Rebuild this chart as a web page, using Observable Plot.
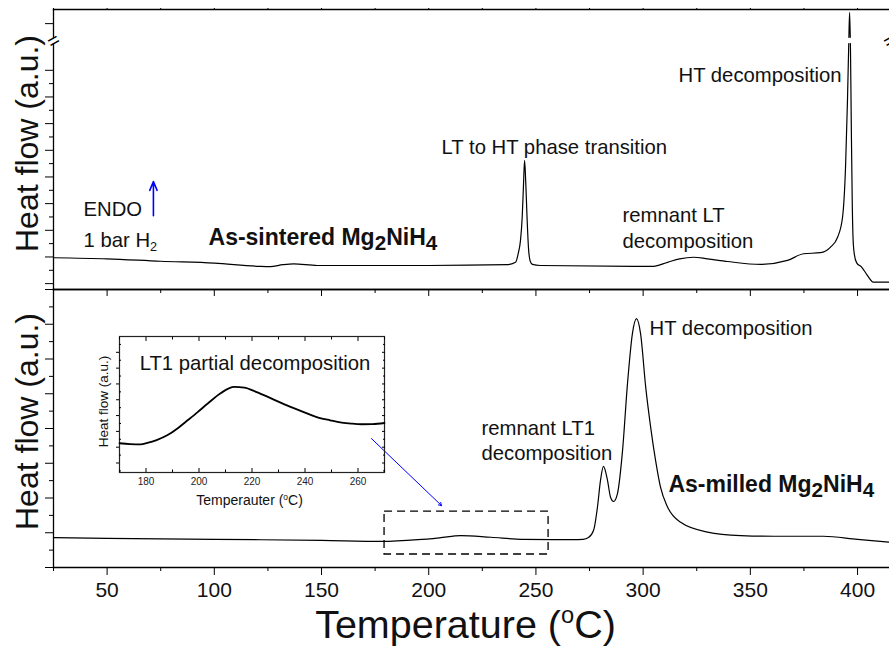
<!DOCTYPE html>
<html><head><meta charset="utf-8">
<script src="https://cdn.jsdelivr.net/npm/d3@7"></script>
<script src="https://cdn.jsdelivr.net/npm/@observablehq/plot@0.6"></script>
<style>
body{margin:0;background:#fff;}
#chart{position:relative;width:889px;height:648px;overflow:hidden;background:#fff;font-family:"Liberation Sans",Arial,sans-serif;}
#chart svg{position:absolute;}
</style></head><body><div id="chart"></div>
<script>
// ---------- shared x ----------
const xDomain = [25, 414.9];
const xMajor = [50, 100, 150, 200, 250, 300, 350, 400];
const xMinor = [25, 75, 125, 175, 225, 275, 325, 375];

// ---------- top panel: As-sintered ----------
const topYDomain = [-0.22, 10.28];
const topYMajor = [0, 1, 2, 3, 4, 5, 6, 7, 8, 9.75];
const topYMinor = [0.5, 1.5, 2.5, 3.5, 4.5, 5.5, 6.5, 7.5];
const topT = [25, 50, 75, 100, 121, 126, 132, 137, 148, 200, 236.7, 240.5, 241.8, 242.8, 243.6, 244.2, 244.7, 245.2, 245.8, 246.5, 247.3, 248.4, 252, 304.8, 311.4, 317, 323.5, 330, 339.4, 354.8, 367.3, 374.8, 382.7, 387.4, 390.7, 393, 394.4, 395.3, 395.9, 396.3, 396.7, 397.1, 397.5, 397.9, 398.5, 399.6, 401.9, 404.5, 407.3, 414.9];
const topV = [0.97, 0.93, 0.84, 0.77, 0.65, 0.64, 0.71, 0.74, 0.68, 0.68, 0.71, 0.80, 1.15, 1.62, 2.5, 3.7, 4.62, 3.9, 2.6, 1.37, 0.85, 0.72, 0.68, 0.65, 0.80, 0.93, 0.99, 0.93, 0.83, 0.72, 0.87, 1.12, 1.16, 1.37, 1.74, 2.49, 4.37, 6.87, 9.0, 10.17, 8.8, 5.8, 3.2, 1.7, 1.1, 0.78, 0.62, 0.32, 0.06, 0.06];
const topBreak = [9.0, 9.2];
const topNotes = [
  {text: "ENDO", x: 39, y: 2.85},
  {text: "1 bar H_2", x: 39, y: 1.69},
  {text: "LT to HT phase transition", x: 206, y: 5.18},
  {text: "remnant LT\ndecomposition", x: 290.4, y: 2.14},
  {text: "HT decomposition", x: 316.5, y: 7.88}
];
const topTitle = [{text: "As-sintered Mg_2NiH_4", x: 97.3, y: 1.73}];
const endoArrow = [{x: 71.6, y1: 2.55, y2: 3.83}];

// ---------- bottom panel: As-milled ----------
const botYDomain = [0, 8];
const botYMajor = [0, 1, 2, 3, 4, 5, 6, 7, 8];
const botYMinor = [0.5, 1.5, 2.5, 3.5, 4.5, 5.5, 6.5, 7.5];
const botT = [25, 50, 100, 150, 178, 195, 205, 215, 229, 244, 267, 272, 274.5, 276.9, 278.7, 280.1, 281.5, 283.4, 284.8, 286.2, 288, 290.4, 292.7, 295, 296.9, 298.8, 301.2, 303.5, 305.8, 308.1, 311.4, 317.5, 330, 345.5, 361, 384, 400, 414.9];
const botV = [0.86, 0.84, 0.81, 0.78, 0.75, 0.80, 0.855, 0.92, 0.87, 0.81, 0.80, 0.81, 0.86, 1.07, 1.74, 2.50, 2.91, 2.50, 2.02, 1.90, 2.12, 3.37, 5.29, 6.73, 7.16, 6.73, 5.19, 4.04, 3.08, 2.31, 1.74, 1.30, 1.02, 0.92, 0.90, 0.90, 0.81, 0.73];
const botNotes = [
  {text: "HT decomposition", x: 303, y: 6.94},
  {text: "remnant LT1\ndecomposition", x: 224.6, y: 3.69}
];
const botTitle = [{text: "As-milled Mg_2NiH_4", x: 311.8, y: 2.39}];
const zoomBox = [{x1: 179.4, x2: 255.9, y1: 0.374, y2: 1.61}];
const zoomArrow = [{x1: 173.3, y1: 3.71, x2: 206.0, y2: 1.78}];

// ---------- inset ----------
const insetXDomain = [170, 270];
const insetYDomain = [-0.6, 8.0];
const insetXMajor = [180, 200, 220, 240, 260];
const insetXMinor = [170, 190, 210, 230, 250, 270];
const insetYTicks = [0, 1, 2, 3, 4, 5, 6, 7];
const insetYMinor = [-0.5, 0.5, 1.5, 2.5, 3.5, 4.5, 5.5, 6.5, 7.5];
const insetT = [170, 174, 178, 180.5, 184, 188, 192, 195.7, 199.5, 203.3, 208.3, 213.3, 217.1, 221.5, 226, 231, 236, 240.5, 245, 249.5, 253.8, 257.5, 261.4, 265.5, 270];
const insetV = [1.25, 1.20, 1.18, 1.27, 1.45, 1.75, 2.20, 2.70, 3.22, 3.76, 4.43, 4.81, 4.77, 4.50, 4.18, 3.80, 3.45, 3.15, 2.87, 2.70, 2.56, 2.49, 2.45, 2.46, 2.53];
const insetNote = [{text: "LT1 partial decomposition", x: 177.6, y: 6.31}];

const FONT = '"Liberation Sans", Arial, sans-serif';
const chart = document.getElementById("chart");
const NOLAB = () => "";

function place(svg, left, top) {
  svg.style.left = left + "px";
  svg.style.top = top + "px";
  chart.appendChild(svg);
}
// tick-only axes (no tick labels, no axis label)
const tx = (o) => Plot.axisX({tickFormat: NOLAB, label: null, ...o});
const ty = (o) => Plot.axisY({tickFormat: NOLAB, label: null, ...o});

// ---------- top plot ----------
const topPlot = Plot.plot({
  width: 889, height: 300, marginTop: 9, marginBottom: 11, marginLeft: 53, marginRight: 0,
  style: {background: "transparent", fontFamily: FONT, overflow: "visible"},
  x: {domain: xDomain},
  y: {domain: topYDomain},
  marks: [
    ty({ticks: topYMajor, tickSize: 8}),
    ty({ticks: topYMinor, tickSize: 4}),
    tx({ticks: xMajor, tickSize: 7}),
    tx({ticks: xMinor, tickSize: 4}),
    tx({anchor: "top", ticks: [...xMajor, ...xMinor], tickSize: 2}),
    Plot.line(topT, {x: topT, y: topV, curve: "monotone-x", stroke: "black", strokeWidth: 1.2, clip: true}),
    Plot.frame({anchor: "top", strokeWidth: 1.3}),
    Plot.frame({anchor: "bottom", strokeWidth: 1.3}),
    Plot.frame({anchor: "left", strokeWidth: 1.3}),
    Plot.rect([topBreak], {x1: xDomain[0] - 1, x2: xDomain[1] + 1, y1: d => d[0], y2: d => d[1], fill: "white"}),
    Plot.text([xDomain[0], xDomain[1]], {x: d => d, y: (topBreak[0] + topBreak[1]) / 2, text: () => "=", rotate: -30, fontSize: 20}),
    Plot.arrow(endoArrow, {x: "x", y1: "y1", y2: "y2", stroke: "#0000ff", strokeWidth: 1.6, headLength: 9, headAngle: 45}),
    Plot.text(topNotes, {x: "x", y: "y", text: "text", textAnchor: "start", fontSize: 20.3, lineHeight: 1.28, fill: "#111"}),
    Plot.text(topTitle, {x: "x", y: "y", text: "text", textAnchor: "start", fontSize: 23, fontWeight: "bold", fill: "#111"}),
    Plot.text(["Heat flow (a.u.)"], {frameAnchor: "left", textAnchor: "middle", lineAnchor: "middle", rotate: -90, dx: -26, dy: -6, fontSize: 32, fill: "#111"})
  ]
});
place(topPlot, 0, 0);

// ---------- bottom plot ----------
const botPlot = Plot.plot({
  width: 889, height: 364, marginTop: 5, marginBottom: 81, marginLeft: 53, marginRight: 0,
  style: {background: "transparent", fontFamily: FONT, overflow: "visible"},
  x: {domain: xDomain},
  y: {domain: botYDomain},
  marks: [
    ty({ticks: botYMajor, tickSize: 8}),
    ty({ticks: botYMinor, tickSize: 4}),
    tx({ticks: xMajor, tickSize: 8}),
    tx({ticks: xMinor, tickSize: 4}),
    Plot.axisX({ticks: xMajor, tickSize: 0, tickPadding: 15, fontSize: 21, fill: "#111", label: null}),
    Plot.line(botT, {x: botT, y: botV, curve: "monotone-x", stroke: "black", strokeWidth: 1.2, clip: true}),
    Plot.frame({anchor: "top", strokeWidth: 1.3}),
    Plot.frame({anchor: "bottom", strokeWidth: 1.3}),
    Plot.frame({anchor: "left", strokeWidth: 1.3}),
    Plot.rect(zoomBox, {x1: "x1", x2: "x2", y1: "y1", y2: "y2", fill: "none", stroke: "black", strokeWidth: 1.3, strokeDasharray: "8,5"}),
    Plot.arrow(zoomArrow, {x1: "x1", y1: "y1", x2: "x2", y2: "y2", stroke: "#0000ff", strokeWidth: 1, headLength: 5}),
    Plot.text(botNotes, {x: "x", y: "y", text: "text", textAnchor: "start", fontSize: 20.3, lineHeight: 1.27, fill: "#111"}),
    Plot.text(botTitle, {x: "x", y: "y", text: "text", textAnchor: "start", fontSize: 23, fontWeight: "bold", fill: "#111"}),
    Plot.text(["Heat flow (a.u.)"], {frameAnchor: "left", textAnchor: "middle", lineAnchor: "middle", rotate: -90, dx: -26, dy: -7, fontSize: 32, fill: "#111"}),
    Plot.text(["Temperature (^oC)"], {frameAnchor: "bottom", textAnchor: "middle", lineAnchor: "middle", dx: -6, dy: 58, fontSize: 39.5, fill: "#111"})
  ]
});
place(botPlot, 0, 284);

// ---------- inset plot ----------
const insetPlot = Plot.plot({
  width: 320, height: 194, marginTop: 10, marginBottom: 48, marginLeft: 49, marginRight: 6,
  style: {background: "transparent", fontFamily: FONT, overflow: "visible"},
  x: {domain: insetXDomain},
  y: {domain: insetYDomain},
  marks: [
    Plot.frame({stroke: "#222", strokeWidth: 1.2}),
    tx({ticks: insetXMajor, tickSize: -4}),
    tx({ticks: insetXMinor, tickSize: -2.5}),
    tx({anchor: "top", ticks: insetXMajor, tickSize: -4}),
    tx({anchor: "top", ticks: insetXMinor, tickSize: -2.5}),
    Plot.axisX({ticks: insetXMajor, tickSize: 0, tickPadding: 5, fontSize: 10, fill: "#222", label: null}),
    ty({ticks: insetYTicks, tickSize: 3}),
    ty({ticks: insetYMinor, tickSize: -2}),
    ty({anchor: "right", ticks: insetYTicks, tickSize: -3}),
    ty({anchor: "right", ticks: insetYMinor, tickSize: -2}),
    Plot.line(insetT, {x: insetT, y: insetV, curve: "monotone-x", stroke: "black", strokeWidth: 1.8}),
    Plot.text(insetNote, {x: "x", y: "y", text: "text", textAnchor: "start", fontSize: 20.3, fill: "#111"}),
    Plot.text(["Heat flow (a.u.)"], {frameAnchor: "left", textAnchor: "middle", lineAnchor: "middle", rotate: -90, dx: -16, dy: -3, fontSize: 13.5, fill: "#111"}),
    Plot.text(["Temperauter (^oC)"], {frameAnchor: "bottom", textAnchor: "middle", lineAnchor: "middle", dx: -2.5, dy: 28, fontSize: 14, fill: "#111"})
  ]
});
place(insetPlot, 70, 326);

// ---------- sub/superscripts as tspans ----------
const NS = "http://www.w3.org/2000/svg";
chart.querySelectorAll("text, tspan").forEach(el => {
  if (el.children.length) return;
  const s = el.textContent;
  if (!/[_^]/.test(s)) return;
  const fs = parseFloat(getComputedStyle(el).fontSize) || 16;
  const bold = !!el.closest('[font-weight="bold"]');
  el.textContent = "";
  let buf = "";
  for (let i = 0; i < s.length; i++) {
    const c = s[i];
    if ((c === "_" || c === "^") && i + 1 < s.length) {
      if (buf) { el.appendChild(document.createTextNode(buf)); buf = ""; }
      const t = document.createElementNS(NS, "tspan");
      if (c === "_") {
        t.setAttribute("font-size", (bold ? 0.9 : 0.62) * fs);
        t.setAttribute("baseline-shift", -(bold ? 0.22 : 0.2) * fs);
      } else {
        t.setAttribute("font-size", 0.6 * fs);
        t.setAttribute("baseline-shift", 0.38 * fs);
      }
      t.textContent = s[i + 1];
      el.appendChild(t);
      i++;
    } else buf += c;
  }
  if (buf) el.appendChild(document.createTextNode(buf));
});
</script></body></html>
